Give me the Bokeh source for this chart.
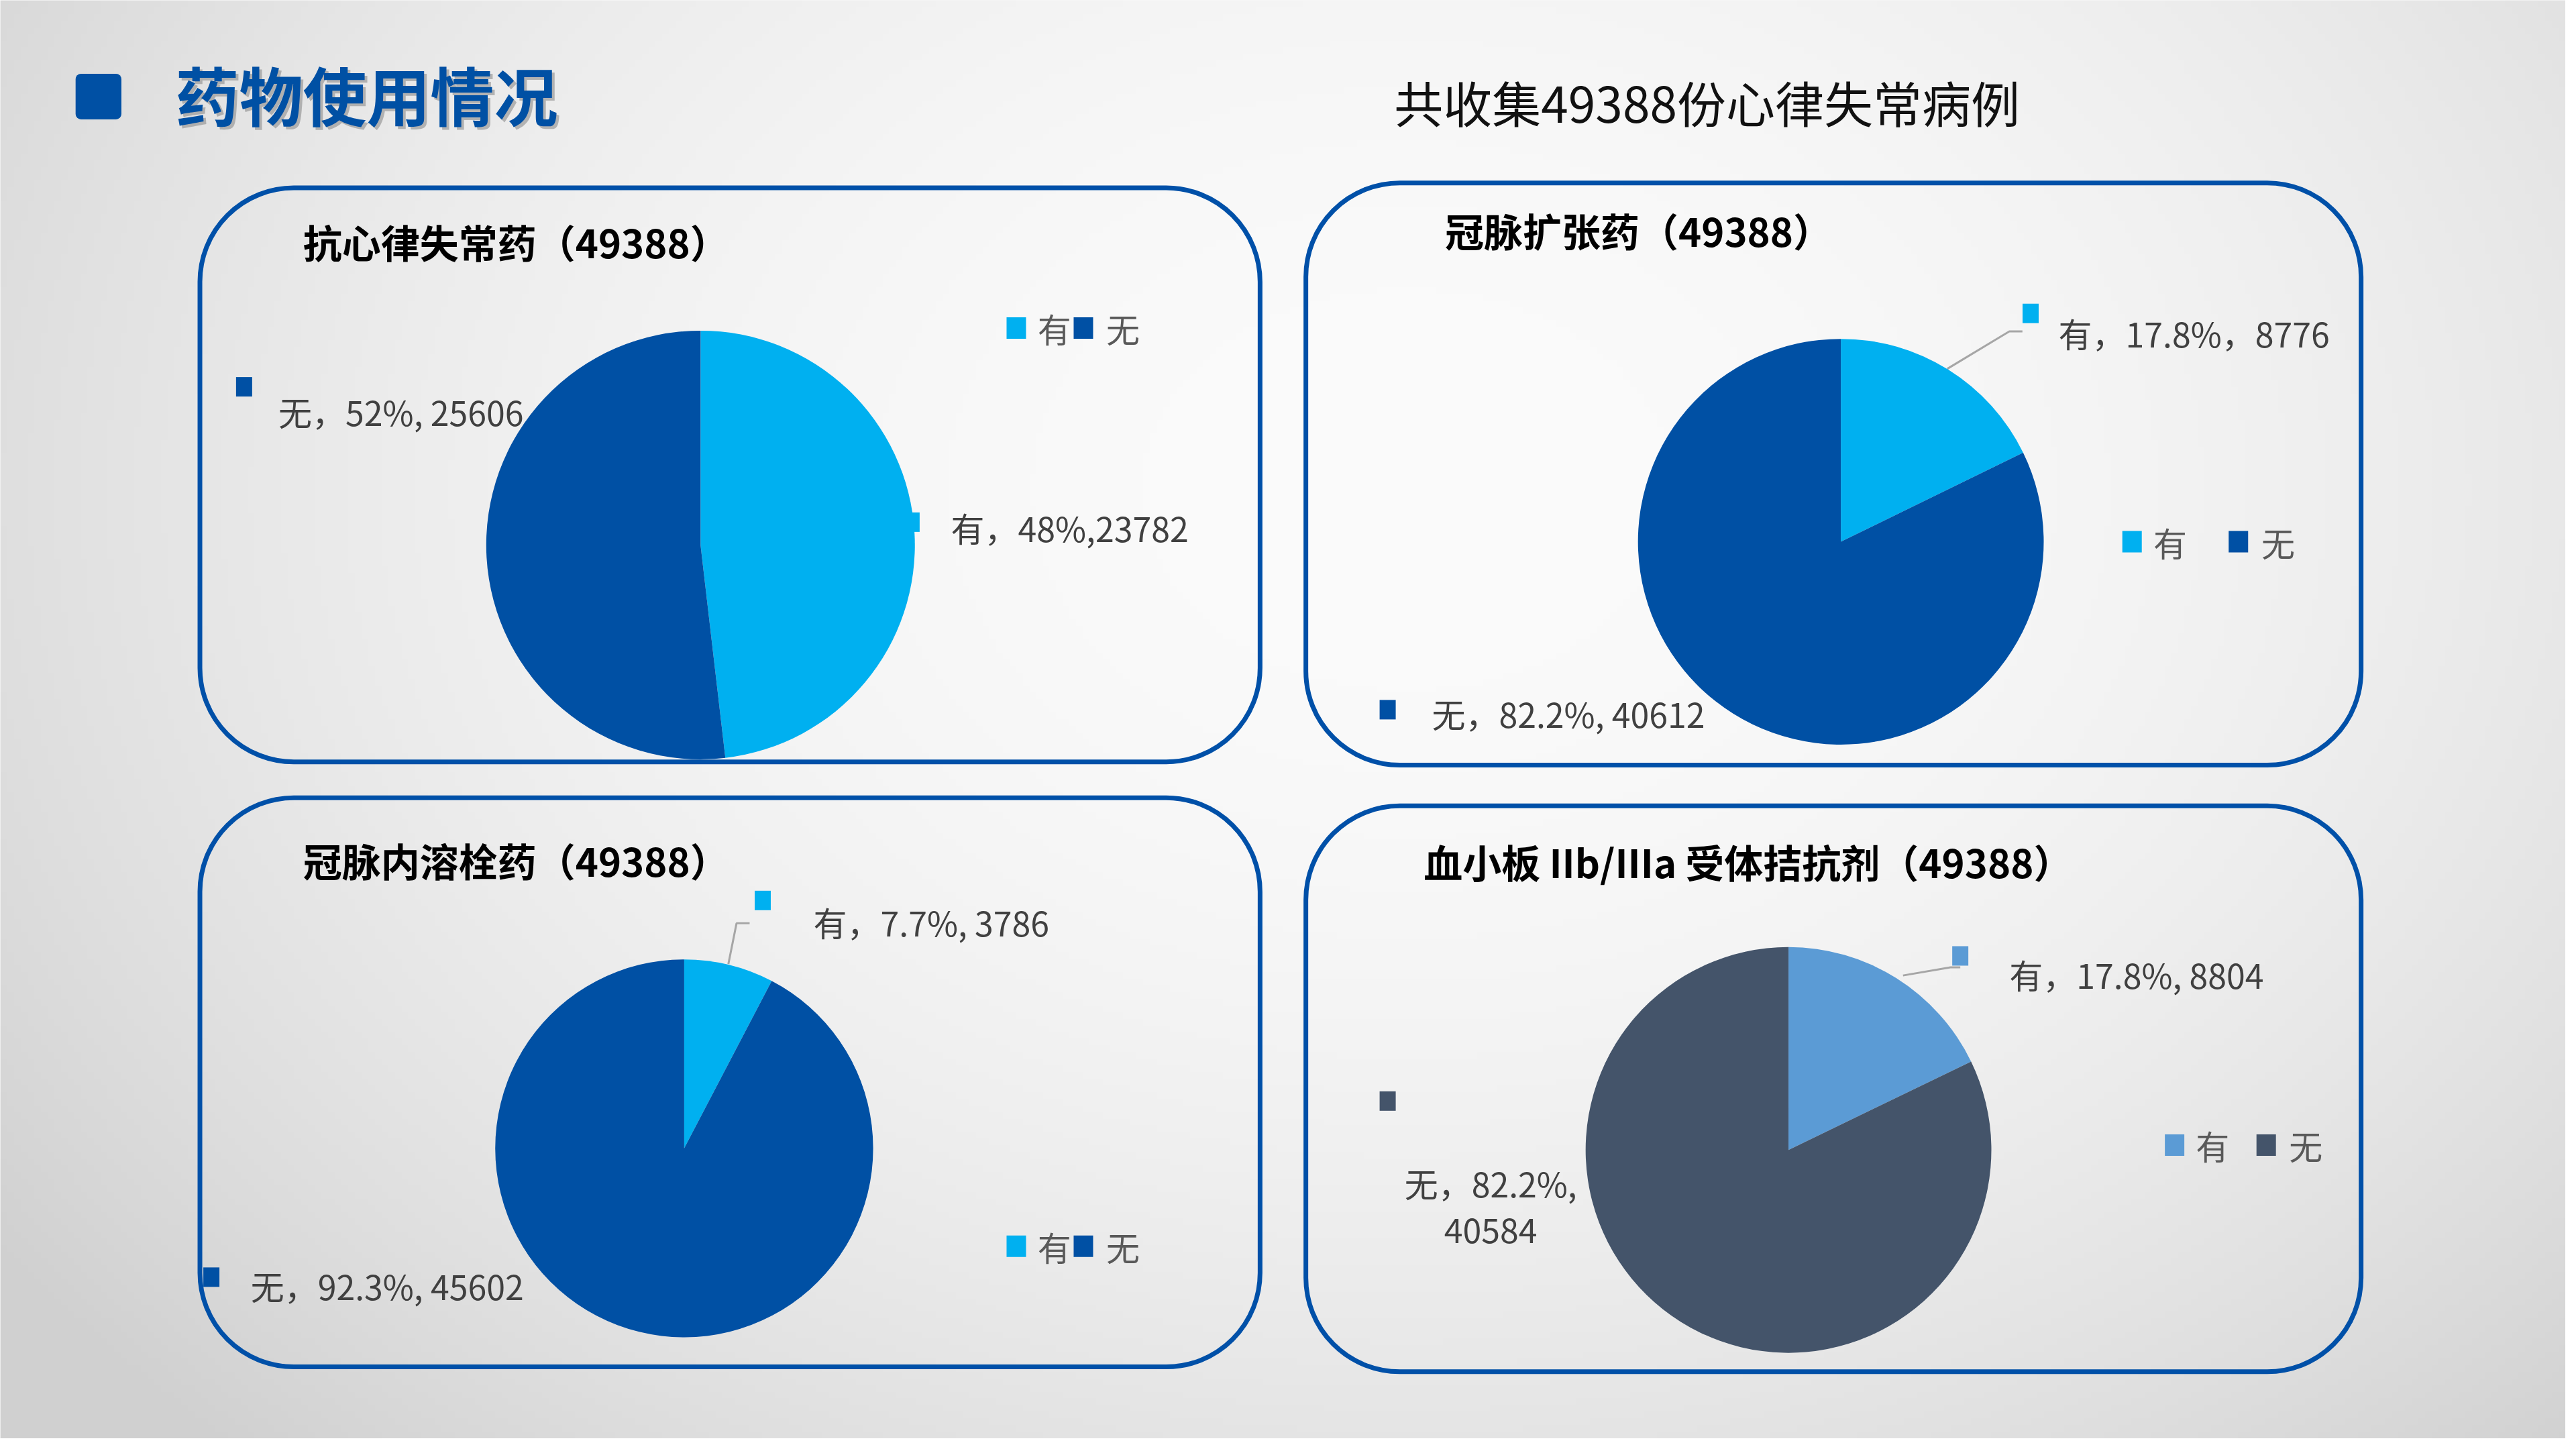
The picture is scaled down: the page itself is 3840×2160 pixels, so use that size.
import numpy as np
from bokeh.plotting import figure
from bokeh.models import Range1d
from bokeh.core.properties import value
from bokeh.embed import file_html
from bokeh.resources import INLINE

# 数据
categories = ["有", "无"]
titles = ["抗心律失常药（49388）", "冠脉扩张药（49388）",
          "冠脉内溶栓药（49388）", "血小板 IIb/IIIa 受体拮抗剂（49388）"]
has_values = [23782, 8776, 3786, 8804]
none_values = [25606, 40612, 45602, 40584]
has_labels = ["有，48%,23782", "有，17.8%，8776", "有，7.7%, 3786", "有，17.8%, 8804"]
none_labels = ["无，52%, 25606", "无，82.2%, 40612", "无，92.3%, 45602", "无，82.2%,\n40584"]
main_title = "药物使用情况"
sub_title = "共收集49388份心律失常病例"

FONT = value("Noto Sans CJK SC")
W, H = 3840, 2160
S = H / 882.0  # 以参考图 1568x882 的坐标来摆放


def px(x):
    return x * S


def py(y):
    return H - y * S


p = figure(width=3824, height=2144, x_range=Range1d(0, W), y_range=Range1d(0, H),
           output_backend="svg", toolbar_location=None, min_border=0)
p.axis.visible = False
p.grid.visible = False
p.outline_line_color = None
p.background_fill_color = "#efefef"
p.border_fill_color = "#efefef"

# 背景渐变
ny, nx = 216, 384
yy, xx = np.mgrid[0:ny, 0:nx]
xd = (xx + 0.5) / nx * 1568
yd = 882 - (yy + 0.5) / ny * 882
d = ((xd - 860) / 1000) ** 2 + ((yd - 300) / 760) ** 2
g = np.clip(251 - 38 * d, 208, 251).astype(np.uint32)
img = (np.uint32(255) << 24) | (g << 16) | (g << 8) | g
p.image_rgba(image=[img], x=0, y=0, dw=W, dh=H)

# 标题
p.rect(x=[px(60)], y=[py(59)], width=[px(28)], height=[px(28)],
       fill_color="#0050a4", line_color=None, border_radius=8)
p.text(x=[px(107)], y=[py(57)], text=[main_title], text_font=FONT, text_font_style="bold",
       text_font_size="95px", text_color="#8c8c8c", text_alpha=0.6, x_offset=4, y_offset=4,
       text_baseline="middle", text_align="left")
p.text(x=[px(107)], y=[py(57)], text=[main_title], text_font=FONT, text_font_style="bold",
       text_font_size="95px", text_color="#0050a4",
       text_baseline="middle", text_align="left")
p.text(x=[px(852)], y=[py(62)], text=[sub_title], text_font=FONT,
       text_font_size="73px", text_color="#111111",
       text_baseline="middle", text_align="left")

# 圆角框
boxes = [(122, 770, 115, 467), (798, 1443, 112, 469), (122, 770, 489, 838), (798, 1443, 494, 841)]
p.quad(left=[px(b[0]) for b in boxes], right=[px(b[1]) for b in boxes],
       top=[py(b[2]) for b in boxes], bottom=[py(b[3]) for b in boxes],
       fill_alpha=0, line_color="#0050a8", line_width=7, border_radius=140)

# 饼图布局
centers = [(428, 334), (1125, 332), (418, 704), (1093, 705)]
radii = [131, 124, 115.5, 124]
palettes = [["#00b0f0", "#0050a4"]] * 3 + [["#5b9bd5", "#44546a"]]
title_pos = [(185, 148), (883, 141), (185, 527), (870, 528)]
has_mark = [(557, 320), (1241, 192), (466, 552), (1198, 586)]
has_text = [(581, 323), (1258, 204), (497, 565), (1228, 597)]
none_mark = [(149, 237), (848, 435), (129, 783), (848, 675)]
none_text = [(170, 252, "left"), (875, 437, "left"), (153, 788, "left"), (911, 739, "center")]
legend_pos = [((621, 201), (662, 201)), ((1303, 332), (1368, 332)),
              ((621, 764), (662, 764)), ((1329, 702), (1385, 702))]
leaders = [None,
           ([1190, 1228, 1236], [226, 203, 203]),
           ([445, 450, 458], [591, 566, 566]),
           ([1163, 1192, 1198], [598, 593, 593])]

for i in range(4):
    cols = palettes[i]
    # 数据标签的小方块
    p.rect(x=[px(has_mark[i][0]), px(none_mark[i][0])], y=[py(has_mark[i][1]), py(none_mark[i][1])],
           width=24, height=29, width_units="screen", height_units="screen",
           fill_color=cols, line_color=None)
    if leaders[i] is not None:
        lx, ly = leaders[i]
        p.line(x=[px(v) for v in lx], y=[py(v) for v in ly], line_color="#a6a6a6", line_width=3)

    vals = [has_values[i], none_values[i]]
    total = float(sum(vals))
    cum = np.concatenate([[0], np.cumsum(vals)]) / total
    start = [np.pi / 2 - 2 * np.pi * cum[k + 1] for k in range(len(vals))]
    end = [np.pi / 2 - 2 * np.pi * cum[k] for k in range(len(vals))]
    cx, cy = centers[i]
    p.wedge(x=px(cx), y=py(cy), radius=px(radii[i]), start_angle=start, end_angle=end,
            fill_color=cols, line_color=None)

    p.text(x=[px(title_pos[i][0])], y=[py(title_pos[i][1])], text=[titles[i]], text_font=FONT,
           text_font_style="bold", text_font_size="58px", text_color="#000000",
           text_baseline="middle", text_align="left")
    p.text(x=[px(has_text[i][0])], y=[py(has_text[i][1])], text=[has_labels[i]], text_font=FONT,
           text_font_size="50px", text_color="#404040", text_baseline="middle", text_align="left")
    p.text(x=[px(none_text[i][0])], y=[py(none_text[i][1])], text=[none_labels[i]], text_font=FONT,
           text_font_size="50px", text_color="#404040", text_baseline="middle",
           text_align=none_text[i][2], text_line_height=0.95)

    # 图例
    (ax, ay), (bx, by) = legend_pos[i]
    p.rect(x=[px(ax), px(bx)], y=[py(ay), py(by)], width=29, height=32,
           width_units="screen", height_units="screen", fill_color=cols, line_color=None)
    p.text(x=[px(ax + 13), px(bx + 14)], y=[py(ay), py(by)], text=categories, text_font=FONT,
           text_font_size="50px", text_color="#595959", text_baseline="middle", text_align="left")

open("out.html", "w").write(file_html(p, INLINE))
